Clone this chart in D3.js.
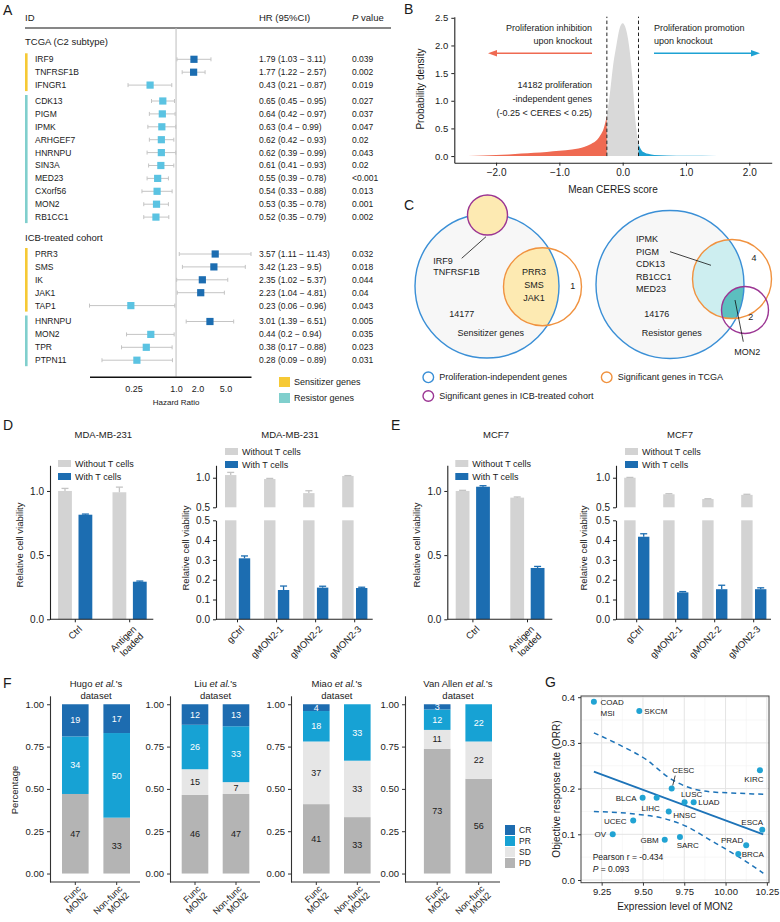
<!DOCTYPE html>
<html lang="en">
<head>
<meta charset="utf-8"/>
<title>MON2 figure</title>
<script src="https://d3js.org/d3.v7.min.js"></script>
<style>
body { margin: 0; background: #fff; }
svg { display: block; font-family: "Liberation Sans", Arial, Helvetica, sans-serif; }
</style>
</head>
<body>
<script>
// ----------------------------------------------------------------- data
// A: forest plot
const tcgaGenes = ["IRF9", "TNFRSF1B", "IFNGR1", "CDK13", "PIGM", "IPMK", "ARHGEF7", "HNRNPU", "SIN3A", "MED23", "CXorf56", "MON2", "RB1CC1"]
const tcgaKind  = ["S", "S", "S", "R", "R", "R", "R", "R", "R", "R", "R", "R", "R"]
const tcgaHR = [1.79, 1.77, 0.43, 0.65, 0.64, 0.63, 0.62, 0.62, 0.61, 0.55, 0.54, 0.53, 0.52]
const tcgaLo = [1.03, 1.22, 0.21, 0.45, 0.42, 0.4, 0.42, 0.39, 0.41, 0.39, 0.33, 0.35, 0.35]
const tcgaHi = [3.11, 2.57, 0.87, 0.95, 0.97, 0.99, 0.93, 0.99, 0.93, 0.78, 0.88, 0.78, 0.79]
const tcgaP  = ["0.039", "0.002", "0.019", "0.027", "0.037", "0.047", "0.02", "0.043", "0.02", "<0.001", "0.013", "0.001", "0.002"]
const icbGenes = ["PRR3", "SMS", "IK", "JAK1", "TAP1", "HNRNPU", "MON2", "TPR", "PTPN11"]
const icbKind  = ["S", "S", "S", "S", "S", "R", "R", "R", "R"]
const icbHR = [3.57, 3.42, 2.35, 2.23, 0.23, 3.01, 0.44, 0.38, 0.28]
const icbLo = [1.11, 1.23, 1.02, 1.04, 0.06, 1.39, 0.2, 0.17, 0.09]
const icbHi = [11.43, 9.5, 5.37, 4.81, 0.96, 6.51, 0.94, 0.88, 0.89]
const icbP  = ["0.032", "0.018", "0.044", "0.04", "0.043", "0.005", "0.035", "0.023", "0.031"]
const hrTicks = [0.25, 1, 2, 5]

// B: density of mean CERES score
const ceresX = [-2.44, -2.2, -2, -1.8, -1.6, -1.4, -1.2, -1, -0.8, -0.6, -0.5, -0.4, -0.35, -0.3, -0.25,
                -0.2, -0.15, -0.1, -0.05, 0, 0.05, 0.1, 0.15, 0.2, 0.25, 0.3, 0.35, 0.4, 0.5, 0.7, 1, 1.5, 2.1]
const ceresDens = [0, 0.01, 0.02, 0.03, 0.045, 0.06, 0.075, 0.095, 0.12, 0.17, 0.22, 0.3, 0.38, 0.5, 0.73,
                   1.15, 1.65, 2.0, 2.3, 2.4, 2.3, 2.0, 1.45, 0.65, 0.22, 0.1, 0.06, 0.04, 0.02, 0.01, 0.005, 0.002, 0]

// D / E: T cell co-culture viability
const agGroups = ["Ctrl", "Antigen\nloaded"]
const koGroups = ["gCtrl", "gMON2-1", "gMON2-2", "gMON2-3"]
const mdaAgNoT = [1.0, 0.99], mdaAgNoTErr = [0.02, 0.04]
const mdaAgT = [0.815, 0.293], mdaAgTErr = [0.005, 0.005]
const mdaKoNoT = [1.045, 0.978, 0.74, 1.03], mdaKoNoTErr = [0.045, 0.01, 0.04, 0.006]
const mdaKoT = [0.308, 0.148, 0.16, 0.158], mdaKoTErr = [0.012, 0.02, 0.007, 0.004]
const mcfAgNoT = [1.0, 0.948], mcfAgNoTErr = [0.005, 0.005]
const mcfAgT = [1.033, 0.4], mcfAgTErr = [0.008, 0.012]
const mcfKoNoT = [1.0, 0.72, 0.64, 0.71], mcfKoNoTErr = [0.005, 0.01, 0.005, 0.01]
const mcfKoT = [0.417, 0.136, 0.152, 0.152], mcfKoTErr = [0.015, 0.004, 0.02, 0.007]

// F: response of ICB cohorts (counts in %), [Func, Non-func]
const fDatasets = ["Hugo", "Liu", "Miao", "Van Allen"]
const fGroups = ["Func\nMON2", "Non-func\nMON2"]
const fResp = ["PD", "SD", "PR", "CR"]
const fPD = [[47, 33], [46, 47], [41, 33], [73, 56]]
const fSD = [[0, 0], [15, 7], [37, 33], [11, 22]]
const fPR = [[34, 50], [26, 33], [18, 33], [12, 22]]
const fCR = [[19, 17], [12, 13], [4, 0], [3, 0]]

// G: ORR vs MON2 expression
const gCancers = ["COAD\nMSI", "SKCM", "CESC", "KIRC", "BLCA", "LIHC", "LUSC", "LUAD", "HNSC", "UCEC", "OV", "GBM", "SARC", "ESCA", "PRAD", "BRCA"]
const gExpr = [9.203, 9.478, 9.674, 10.208, 9.498, 9.583, 9.752, 9.807, 9.656, 9.441, 9.317, 9.632, 9.724, 10.222, 10.125, 10.077]
const gOrr  = [0.39, 0.37, 0.2, 0.24, 0.18, 0.18, 0.17, 0.17, 0.15, 0.13, 0.1, 0.088, 0.094, 0.11, 0.076, 0.057]
const gFit = [[9.203, 0.237], [10.228, 0.1]]
const gUpper = [[9.203, 0.322], [9.361, 0.295], [9.522, 0.263], [9.663, 0.2225], [9.765, 0.204], [9.906, 0.193], [10.067, 0.19], [10.228, 0.1875]]
const gLower = [[9.203, 0.15], [9.462, 0.144], [9.623, 0.135], [9.765, 0.117], [9.906, 0.0875], [10.027, 0.062], [10.148, 0.035], [10.228, 0.0147]]

// ----------------------------------------------------------------- colours
const C = {
  dark: "#1c6db1", light: "#5bc3e2", ci: "#c4c4c4", yellow: "#f6c935", teal: "#80cfcd",
  red: "#ef6a52", cyan: "#1ea2d3", grey: "#d9d9d9", barGrey: "#d3d3d3", ink: "#1a1a1a",
  CR: "#1d6cb0", PR: "#17a2d4", SD: "#e6e6e6", PD: "#b4b4b4"
}

const svg = d3.select("body").append("svg").attr("width", 780).attr("height", 922)
svg.append("rect").attr("width", 780).attr("height", 922).attr("fill", "#fff")

function text(g, x, y, s, o = {}) {
  const t = g.append("text").attr("x", x).attr("y", y)
    .attr("font-size", o.size || 8.5)
    .attr("text-anchor", o.anchor || "start")
    .attr("fill", o.fill || C.ink)
  if (o.dy) t.attr("dy", o.dy)
  if (o.style) t.attr("font-style", o.style)
  if (o.weight) t.attr("font-weight", o.weight)
  t.text(s)
  return t
}
function rotLabel(g, x, y, s, size, angle = -45) {
  const t = g.append("text").attr("transform", `translate(${x},${y}) rotate(${angle})`)
    .attr("text-anchor", "end").attr("font-size", size).attr("fill", C.ink)
  s.split("\n").forEach((l, i) => t.append("tspan").attr("x", 0).attr("dy", i ? "1.05em" : "0.35em").text(l))
}
function yLabel(g, x, y, s, size) {
  g.append("text").attr("transform", `translate(${x},${y}) rotate(-90)`)
    .attr("text-anchor", "middle").attr("dy", "0.35em").attr("font-size", size).attr("fill", C.ink).text(s)
}
function styleAxis(g, size, col = "#222", w = 1.1) {
  g.attr("font-family", null).attr("font-size", size)
  g.selectAll("line").attr("stroke", col)
  g.select(".domain").attr("stroke", col).attr("stroke-width", w)
  g.selectAll("text").attr("fill", C.ink)
}
const panelLetters = [["A", 3, 15], ["B", 404, 14], ["C", 404, 209.5], ["D", 3, 430], ["E", 391, 430], ["F", 3, 688], ["G", 545, 687]]
panelLetters.forEach(([l, x, y]) => text(svg, x, y, l, { size: 14 }))

// ----------------------------------------------------------------- A
const A = svg.append("g")
const hrX = d3.scaleLog().domain([0.06, 11.43]).range([89.5, 251])
text(A, 25, 21, "ID", { size: 9.5 })
text(A, 259, 21, "HR (95%CI)", { size: 9.5 })
const pv = text(A, 352, 21, "", { size: 9.5 })
pv.append("tspan").attr("font-style", "italic").text("P")
pv.append("tspan").text(" value")
A.append("line").attr("x1", 25).attr("x2", 391).attr("y1", 28).attr("y2", 28).attr("stroke", "#111").attr("stroke-width", 1.2)
A.append("line").attr("x1", hrX(1)).attr("x2", hrX(1)).attr("y1", 28).attr("y2", 376.7).attr("stroke", "#bdbdbd").attr("stroke-width", 1)
text(A, 25, 42, "TCGA (C2 subtype)", { size: 9.5, dy: "0.35em" })
text(A, 25, 237.3, "ICB-treated cohort", { size: 9.5, dy: "0.35em" })

function forest(genes, kind, hr, lo, hi, p, y0) {
  let gap = 0
  const ys = genes.map((_, i) => {
    if (i > 0 && kind[i] !== kind[i - 1]) gap += 3
    return y0 + i * 12.9 + gap
  })
  // group colour bars
  let start = 0
  kind.forEach((k, i) => {
    if (i === kind.length - 1 || kind[i + 1] !== k) {
      A.append("rect").attr("x", 25).attr("width", 2.6)
        .attr("y", ys[start] - 6).attr("height", ys[i] - ys[start] + 12)
        .attr("fill", k === "S" ? C.yellow : C.teal)
      start = i + 1
    }
  })
  genes.forEach((g, i) => {
    const y = ys[i]
    text(A, 35, y, g, { dy: "0.35em" })
    A.append("line").attr("x1", hrX(lo[i])).attr("x2", hrX(hi[i])).attr("y1", y).attr("y2", y).attr("stroke", C.ci)
    ;[lo[i], hi[i]].forEach(v => A.append("line").attr("x1", hrX(v)).attr("x2", hrX(v))
      .attr("y1", y - 2).attr("y2", y + 2).attr("stroke", C.ci))
    A.append("rect").attr("x", hrX(hr[i]) - 3.6).attr("y", y - 3.6).attr("width", 7.2).attr("height", 7.2)
      .attr("fill", hr[i] > 1 ? C.dark : C.light)
    text(A, 259, y, `${hr[i]} (${lo[i]} \u2212 ${hi[i]})`, { dy: "0.35em" })
    text(A, 352, y, p[i], { dy: "0.35em" })
  })
}
forest(tcgaGenes, tcgaKind, tcgaHR, tcgaLo, tcgaHi, tcgaP, 59.3)
forest(icbGenes, icbKind, icbHR, icbLo, icbHi, icbP, 254)

const aAx = A.append("g").attr("transform", "translate(0,376.7)")
  .call(d3.axisBottom(hrX).tickValues(hrTicks).tickSize(0).tickPadding(9)
    .tickFormat(d => d < 1 ? d3.format(".2f")(d) : d3.format(".1f")(d)))
styleAxis(aAx, 9, "#111", 1.4)
text(A, hrX(1), 402, "Hazard Ratio", { size: 8, anchor: "middle", dy: "0.35em" })
A.append("rect").attr("x", 279).attr("y", 377).attr("width", 11).attr("height", 10).attr("fill", C.yellow)
A.append("rect").attr("x", 279).attr("y", 393).attr("width", 11).attr("height", 10).attr("fill", C.teal)
text(A, 294, 382, "Sensitizer genes", { size: 9, dy: "0.35em" })
text(A, 294, 398, "Resistor genes", { size: 9, dy: "0.35em" })

// ----------------------------------------------------------------- B
const B = svg.append("g")
const bx = d3.scaleLinear().domain([-2.66, 2.354]).range([454.3, 771.7])
const by = d3.scaleLinear().domain([-0.12, 2.52]).range([162.7, 16.7])
const dens = ceresX.map((x, i) => ({ x, d: ceresDens[i] }))
const area = d3.area().x(p => bx(p.x)).y0(by(0)).y1(p => by(p.d)).curve(d3.curveMonotoneX)
B.append("path").datum(dens.filter(p => p.x <= -0.25)).attr("d", area).attr("fill", C.red)
B.append("path").datum(dens.filter(p => p.x >= -0.25 && p.x <= 0.25)).attr("d", area).attr("fill", C.grey)
B.append("path").datum(dens.filter(p => p.x >= 0.25)).attr("d", area).attr("fill", C.cyan)
;[-0.25, 0.25].forEach(v => B.append("line").attr("x1", bx(v)).attr("x2", bx(v)).attr("y1", by(0)).attr("y2", 16.7)
  .attr("stroke", "#222").attr("stroke-dasharray", "3.5,2.5"))
const bxAx = B.append("g").attr("transform", "translate(0,162.7)")
  .call(d3.axisBottom(bx).tickValues([-2, -1, 0, 1, 2]).tickSize(3).tickSizeOuter(0))
styleAxis(bxAx, 10)
const byAx = B.append("g").attr("transform", "translate(454.3,0)")
  .call(d3.axisLeft(by).tickValues([0, 0.5, 1, 1.5, 2, 2.5]).tickFormat(d3.format(".1f")).tickSize(3).tickSizeOuter(0))
styleAxis(byAx, 9.5)
text(B, 613, 189, "Mean CERES score", { size: 10, anchor: "middle", dy: "0.35em" })
yLabel(B, 420.7, 89, "Probability density", 10)
text(B, 592, 28.3, "Proliferation inhibition", { size: 9, anchor: "end", dy: "0.35em" })
text(B, 592, 40.7, "upon knockout", { size: 9, anchor: "end", dy: "0.35em" })
text(B, 654, 28.3, "Proliferation promotion", { size: 9, dy: "0.35em" })
text(B, 654, 40.7, "upon knockout", { size: 9, dy: "0.35em" })
function arrow(x1, x2, y, col) {
  const dir = Math.sign(x2 - x1)
  B.append("line").attr("x1", x1).attr("x2", x2 - dir * 6).attr("y1", y).attr("y2", y).attr("stroke", col).attr("stroke-width", 1.5)
  B.append("path").attr("d", `M${x2},${y} L${x2 - dir * 9},${y - 3.2} L${x2 - dir * 9},${y + 3.2} Z`).attr("fill", col)
}
arrow(592, 488, 53.3, C.red)
arrow(654, 760, 53.3, C.cyan)
text(B, 592, 85, "14182 proliferation", { size: 9, anchor: "end", dy: "0.35em" })
text(B, 592, 99.3, "-independent genes", { size: 9, anchor: "end", dy: "0.35em" })
text(B, 592, 113.3, "(-0.25 < CERES < 0.25)", { size: 9, anchor: "end", dy: "0.35em" })

// ----------------------------------------------------------------- C
const Cg = svg.append("g")
const defs = svg.append("defs")
function clip(id, cx, cy, r) {
  defs.append("clipPath").attr("id", id).append("circle").attr("cx", cx).attr("cy", cy).attr("r", r)
  return `url(#${id})`
}
const blueS = "#3a8fd6", orangeS = "#f0923f", purpleS = "#9b3593", pale = "#fdeab2"
// left venn (sensitizers)
Cg.append("circle").attr("cx", 487).attr("cy", 286).attr("r", 72).attr("fill", "#f7f7f7")
Cg.append("circle").attr("cx", 542.5).attr("cy", 286.7).attr("r", 39).attr("fill", "#fff")
Cg.append("g").attr("clip-path", clip("cL", 487, 286, 72))
  .append("circle").attr("cx", 542.5).attr("cy", 286.7).attr("r", 39).attr("fill", pale)
Cg.append("circle").attr("cx", 487).attr("cy", 286).attr("r", 72).attr("fill", "none").attr("stroke", blueS).attr("stroke-width", 1.4)
Cg.append("circle").attr("cx", 542.5).attr("cy", 286.7).attr("r", 39).attr("fill", "none").attr("stroke", orangeS).attr("stroke-width", 1.4)
Cg.append("circle").attr("cx", 487.5).attr("cy", 215).attr("r", 20).attr("fill", pale).attr("stroke", purpleS).attr("stroke-width", 1.4)
Cg.append("line").attr("x1", 461.7).attr("y1", 258.3).attr("x2", 486).attr("y2", 236.7).attr("stroke", "#111").attr("stroke-width", 0.8)
text(Cg, 433.3, 260.7, "IRF9", { size: 9, dy: "0.35em" })
text(Cg, 433.3, 272.3, "TNFRSF1B", { size: 9, dy: "0.35em" })
;["PRR3", "SMS", "JAK1"].forEach((s, i) => text(Cg, 534, 271.7 + i * 13.3, s, { size: 9, anchor: "middle", dy: "0.35em" }))
text(Cg, 572.7, 285.7, "1", { size: 9, anchor: "middle", dy: "0.35em" })
text(Cg, 461.7, 314, "14177", { size: 9, anchor: "middle", dy: "0.35em" })
text(Cg, 490.7, 333.3, "Sensitizer genes", { size: 9, anchor: "middle", dy: "0.35em" })
// right venn (resistors)
Cg.append("circle").attr("cx", 670).attr("cy", 284.5).attr("r", 74).attr("fill", "#f7f7f7")
Cg.append("circle").attr("cx", 732).attr("cy", 279).attr("r", 39.5).attr("fill", "#fff")
Cg.append("circle").attr("cx", 745).attr("cy", 310).attr("r", 23.5).attr("fill", "#fff")
const cR = clip("cR", 670, 284.5, 74)
Cg.append("g").attr("clip-path", cR).append("circle").attr("cx", 732).attr("cy", 279).attr("r", 39.5).attr("fill", "#cdeef0")
Cg.append("g").attr("clip-path", cR).append("g").attr("clip-path", clip("cO", 732, 279, 39.5))
  .append("circle").attr("cx", 745).attr("cy", 310).attr("r", 23.5).attr("fill", "#5cbfbf")
Cg.append("circle").attr("cx", 670).attr("cy", 284.5).attr("r", 74).attr("fill", "none").attr("stroke", blueS).attr("stroke-width", 1.4)
Cg.append("circle").attr("cx", 732).attr("cy", 279).attr("r", 39.5).attr("fill", "none").attr("stroke", orangeS).attr("stroke-width", 1.4)
Cg.append("circle").attr("cx", 745).attr("cy", 310).attr("r", 23.5).attr("fill", "none").attr("stroke", purpleS).attr("stroke-width", 1.4)
;["IPMK", "PIGM", "CDK13", "RB1CC1", "MED23"].forEach((s, i) => text(Cg, 636, 239.3 + i * 12.5, s, { size: 9, dy: "0.35em" }))
Cg.append("line").attr("x1", 670).attr("y1", 251.7).attr("x2", 711).attr("y2", 265.3).attr("stroke", "#111").attr("stroke-width", 0.8)
Cg.append("line").attr("x1", 735).attr("y1", 300).attr("x2", 743.3).attr("y2", 341.7).attr("stroke", "#111").attr("stroke-width", 0.8)
text(Cg, 754, 258.3, "4", { size: 9, anchor: "middle", dy: "0.35em" })
text(Cg, 750.7, 316.7, "2", { size: 9, anchor: "middle", dy: "0.35em" })
text(Cg, 747.3, 352, "MON2", { size: 9, anchor: "middle", dy: "0.35em" })
text(Cg, 656.7, 314, "14176", { size: 9, anchor: "middle", dy: "0.35em" })
text(Cg, 671.7, 333.3, "Resistor genes", { size: 9, anchor: "middle", dy: "0.35em" })
// legend
;[[428.3, 377.3, blueS, "Proliferation-independent genes"], [606.7, 377.3, orangeS, "Significant genes in TCGA"],
  [428.3, 396, purpleS, "Significant genes in ICB-treated cohort"]].forEach(([x, y, col, s]) => {
  Cg.append("circle").attr("cx", x).attr("cy", y).attr("r", 5.3).attr("fill", "#fff").attr("stroke", col).attr("stroke-width", 1.4)
  text(Cg, x + 11, y, s, { size: 9, dy: "0.35em" })
})

// ----------------------------------------------------------------- D / E
function barLegend(g, x, y) {
  g.append("rect").attr("x", x).attr("y", y).attr("width", 13).attr("height", 7).attr("fill", C.barGrey)
  g.append("rect").attr("x", x).attr("y", y + 13).attr("width", 13).attr("height", 7).attr("fill", C.dark)
  text(g, x + 17, y + 3.5, "Without T cells", { size: 9, dy: "0.35em" })
  text(g, x + 17, y + 16.5, "With T cells", { size: 9, dy: "0.35em" })
}
function errBar(g, cx, y0, y1, col) {
  g.append("line").attr("x1", cx).attr("x2", cx).attr("y1", y0).attr("y2", y1).attr("stroke", col).attr("stroke-width", 1.3)
  g.append("line").attr("x1", cx - 3.5).attr("x2", cx + 3.5).attr("y1", y1).attr("y2", y1).attr("stroke", col).attr("stroke-width", 1.3)
}
const axisY = 619.3
function simpleBars(cfg) {
  const g = svg.append("g")
  const y = d3.scaleLinear().domain([0, 1.2]).range([axisY, 465.3])
  const x = d3.scalePoint().domain(cfg.groups).range(cfg.centers)
  cfg.groups.forEach((grp, i) => {
    const c = x(grp)
    ;[[cfg.noT, cfg.noTErr, C.barGrey, "#c4c4c4", c - 17.2], [cfg.withT, cfg.withTErr, C.dark, C.dark, c + 3.2]].forEach(([v, e, fill, ec, bx0]) => {
      g.append("rect").attr("x", bx0).attr("width", 13.8).attr("y", y(v[i])).attr("height", axisY - y(v[i])).attr("fill", fill)
      errBar(g, bx0 + 6.9, y(v[i]), y(v[i] + e[i]), ec)
    })
    rotLabel(g, c + 5, axisY + 8, grp, 9.5)
  })
  const ya = g.append("g").attr("transform", `translate(${cfg.axisX},0)`)
    .call(d3.axisLeft(y).tickValues([0, 0.5, 1]).tickFormat(d3.format(".1f")).tickSize(3).tickSizeOuter(0))
  styleAxis(ya, 10)
  g.append("line").attr("x1", cfg.axisX).attr("x2", cfg.endX).attr("y1", axisY).attr("y2", axisY).attr("stroke", "#222").attr("stroke-width", 1.1)
  cfg.groups.forEach(grp => g.append("line").attr("x1", x(grp)).attr("x2", x(grp)).attr("y1", axisY).attr("y2", axisY + 3).attr("stroke", "#222"))
  text(g, cfg.titleX, 435, cfg.title, { size: 9.5, anchor: "middle", dy: "0.35em" })
  yLabel(g, cfg.labelX, 545, "Relative cell viability", 9.5)
  barLegend(g, cfg.axisX + 8, 460)
}
function brokenBars(cfg) {
  const g = svg.append("g")
  const yu = d3.scaleLinear().domain([0.5, 1.21]).range([507.3, 465.3])
  const yl = d3.scaleLinear().domain([0, 0.5]).range([axisY, 520.3])
  const x = d3.scalePoint().domain(cfg.groups).range(cfg.centers)
  cfg.groups.forEach((grp, i) => {
    const c = x(grp)
    ;[[cfg.noT, cfg.noTErr, C.barGrey, "#c4c4c4", c - 12.5], [cfg.withT, cfg.withTErr, C.dark, C.dark, c + 1.3]].forEach(([v, e, fill, ec, bx0]) => {
      const val = v[i], cx = bx0 + 5.7
      if (val > 0.5) {
        g.append("rect").attr("x", bx0).attr("width", 11.4).attr("y", yl(0.5)).attr("height", axisY - yl(0.5)).attr("fill", fill)
        g.append("rect").attr("x", bx0).attr("width", 11.4).attr("y", yu(val)).attr("height", yu(0.5) - yu(val)).attr("fill", fill)
        errBar(g, cx, yu(val), yu(val + e[i]), ec)
      } else {
        g.append("rect").attr("x", bx0).attr("width", 11.4).attr("y", yl(val)).attr("height", axisY - yl(val)).attr("fill", fill)
        errBar(g, cx, yl(val), yl(val + e[i]), ec)
      }
    })
    rotLabel(g, c + 5, axisY + 8, grp, 9.5)
  })
  const ua = g.append("g").attr("transform", `translate(${cfg.axisX},0)`)
    .call(d3.axisLeft(yu).tickValues([0.5, 1]).tickFormat(d3.format(".1f")).tickSize(3).tickSizeOuter(0))
  styleAxis(ua, 10)
  const la = g.append("g").attr("transform", `translate(${cfg.axisX},0)`)
    .call(d3.axisLeft(yl).tickValues([0, 0.1, 0.2, 0.3, 0.4, 0.5]).tickFormat(d3.format(".1f")).tickSize(3).tickSizeOuter(0))
  styleAxis(la, 10)
  g.append("line").attr("x1", cfg.axisX).attr("x2", cfg.endX).attr("y1", axisY).attr("y2", axisY).attr("stroke", "#222").attr("stroke-width", 1.1)
  cfg.groups.forEach(grp => g.append("line").attr("x1", x(grp)).attr("x2", x(grp)).attr("y1", axisY).attr("y2", axisY + 3).attr("stroke", "#222"))
  text(g, cfg.titleX, 435, cfg.title, { size: 9.5, anchor: "middle", dy: "0.35em" })
  yLabel(g, cfg.labelX, 548, "Relative cell viability", 9.5)
  barLegend(g, cfg.axisX + 9, 448)
}
simpleBars({ axisX: 50, endX: 153.3, centers: [75.3, 129.7], groups: agGroups, title: "MDA-MB-231", titleX: 103.3, labelX: 20,
  noT: mdaAgNoT, noTErr: mdaAgNoTErr, withT: mdaAgT, withTErr: mdaAgTErr })
brokenBars({ axisX: 216, endX: 372.7, centers: [237.5, 354.7], groups: koGroups, title: "MDA-MB-231", titleX: 290, labelX: 185.5,
  noT: mdaKoNoT, noTErr: mdaKoNoTErr, withT: mdaKoT, withTErr: mdaKoTErr })
simpleBars({ axisX: 447.3, endX: 552.3, centers: [472.9, 527.5], groups: agGroups, title: "MCF7", titleX: 496, labelX: 416.7,
  noT: mcfAgNoT, noTErr: mcfAgNoTErr, withT: mcfAgT, withTErr: mcfAgTErr })
brokenBars({ axisX: 616, endX: 771, centers: [636.7, 753.7], groups: koGroups, title: "MCF7", titleX: 680, labelX: 583.5,
  noT: mcfKoNoT, noTErr: mcfKoNoTErr, withT: mcfKoT, withTErr: mcfKoTErr })

// ----------------------------------------------------------------- F
const fAxisX = [50, 170, 291, 405]
const fEndX = [140, 260, 380, 500]
const fCenters = [[75.3, 116.7], [195, 236], [316.3, 357.3], [437.2, 478.7]]
const fy = d3.scaleLinear().domain([-0.05, 1.05]).range([882, 695.8])
const fSrc = { PD: fPD, SD: fSD, PR: fPR, CR: fCR }
fDatasets.forEach((ds, k) => {
  const g = svg.append("g")
  const x = d3.scalePoint().domain(fGroups).range(fCenters[k])
  const rows = fGroups.map((grp, j) => {
    const r = { grp }
    fResp.forEach(key => r[key] = fSrc[key][k][j])
    return r
  })
  const stacked = d3.stack().keys(fResp).offset(d3.stackOffsetExpand)(rows)
  stacked.forEach(layer => {
    layer.forEach((seg, j) => {
      const val = rows[j][layer.key]
      if (!val) return
      const c = x(rows[j].grp)
      g.append("rect").attr("x", c - 13.3).attr("width", 26.6)
        .attr("y", fy(seg[1])).attr("height", fy(seg[0]) - fy(seg[1])).attr("fill", C[layer.key])
      text(g, c, (fy(seg[0]) + fy(seg[1])) / 2, val, { size: 9, anchor: "middle", dy: "0.35em",
        fill: layer.key === "CR" || layer.key === "PR" ? "#fff" : C.ink })
    })
  })
  const ya = g.append("g").attr("transform", `translate(${fAxisX[k]},0)`)
    .call(d3.axisLeft(fy).tickValues([0, 0.25, 0.5, 0.75, 1]).tickFormat(d3.format(".2f")).tickSize(3).tickSizeOuter(0))
  styleAxis(ya, 9.5, "#333")
  g.append("line").attr("x1", fAxisX[k]).attr("x2", fEndX[k]).attr("y1", 882).attr("y2", 882).attr("stroke", "#333").attr("stroke-width", 1.1)
  fGroups.forEach(grp => {
    g.append("line").attr("x1", x(grp)).attr("x2", x(grp)).attr("y1", 882).attr("y2", 885).attr("stroke", "#333")
    rotLabel(g, x(grp) + 4, 887, grp, 9)
  })
  const tc = (fCenters[k][0] + fCenters[k][1]) / 2
  const t = text(g, tc, 684, "", { size: 9.5, anchor: "middle", dy: "0.35em" })
  t.append("tspan").text(ds + " ")
  t.append("tspan").attr("font-style", "italic").text("et al.")
  t.append("tspan").text("'s")
  text(g, tc, 696, "dataset", { size: 9.5, anchor: "middle", dy: "0.35em" })
})
yLabel(svg, 15, 790, "Percentage", 9.5)
;["CR", "PR", "SD", "PD"].forEach((key, i) => {
  svg.append("rect").attr("x", 505).attr("y", 825 + i * 11).attr("width", 10).attr("height", 10).attr("fill", C[key])
  text(svg, 519, 830 + i * 11, key, { size: 8.5, dy: "0.35em" })
})

// ----------------------------------------------------------------- G
const G = svg.append("g")
const gx = d3.scaleLinear().domain([9.125, 10.263]).range([581, 769])
const gy = d3.scaleLinear().domain([-0.0059, 0.4026]).range([882.7, 696])
const gxTicks = [9.25, 9.5, 9.75, 10, 10.25], gyTicks = [0, 0.1, 0.2, 0.3, 0.4]
const gxMinor = [9.125, 9.375, 9.625, 9.875, 10.125], gyMinor = [0.05, 0.15, 0.25, 0.35]
gxMinor.forEach(v => G.append("line").attr("x1", gx(v)).attr("x2", gx(v)).attr("y1", 696).attr("y2", 882.7).attr("stroke", "#f2f2f2").attr("stroke-width", 0.6))
gyMinor.forEach(v => G.append("line").attr("y1", gy(v)).attr("y2", gy(v)).attr("x1", 581).attr("x2", 769).attr("stroke", "#f2f2f2").attr("stroke-width", 0.6))
gxTicks.forEach(v => G.append("line").attr("x1", gx(v)).attr("x2", gx(v)).attr("y1", 696).attr("y2", 882.7).attr("stroke", "#e4e4e4").attr("stroke-width", 1))
gyTicks.forEach(v => G.append("line").attr("y1", gy(v)).attr("y2", gy(v)).attr("x1", 581).attr("x2", 769).attr("stroke", "#e4e4e4").attr("stroke-width", 1))
const gLine = d3.line().x(d => gx(d[0])).y(d => gy(d[1])).curve(d3.curveMonotoneX)
G.append("path").datum(gFit).attr("d", gLine).attr("fill", "none").attr("stroke", "#1d73b8").attr("stroke-width", 1.8)
;[gUpper, gLower].forEach(b => G.append("path").datum(b).attr("d", gLine).attr("fill", "none")
  .attr("stroke", "#1d73b8").attr("stroke-width", 1.5).attr("stroke-dasharray", "5,4"))
// label placement (pixels relative to the point)
const gLab = {
  "COAD\nMSI": [6.7, 0.7, "start"], SKCM: [5, 0, "start"], CESC: [11.6, -18.3, "middle"], KIRC: [-6, 9, "middle"],
  BLCA: [-6, 0, "end"], LIHC: [-6, 10, "middle"], LUSC: [7, -8, "middle"], LUAD: [4.6, 0, "start"],
  HNSC: [4.6, 3.3, "start"], UCEC: [-6.6, 0.3, "end"], OV: [-6.7, 0, "end"], GBM: [-6, 0, "end"],
  SARC: [-3.3, 8, "start"], ESCA: [-10, -7.6, "middle"], PRAD: [-3, -5.3, "end"], BRCA: [3.4, 0.6, "start"]
}
gCancers.forEach((c, i) => {
  const px = gx(gExpr[i]), py = gy(gOrr[i])
  const [dx, dy, anc] = gLab[c]
  const t = G.append("text").attr("font-size", 8).attr("fill", C.ink).attr("text-anchor", anc)
  c.split("\n").forEach((l, j) => t.append("tspan").attr("x", px + dx).attr("y", py + dy + j * 11).attr("dy", "0.35em").text(l))
  if (c === "CESC") G.append("line").attr("x1", px + 1).attr("y1", py - 3).attr("x2", px + 3.5).attr("y2", py - 13).attr("stroke", "#111").attr("stroke-width", 0.8)
})
G.selectAll("circle.pt").data(gCancers).join("circle").attr("class", "pt")
  .attr("cx", (d, i) => gx(gExpr[i])).attr("cy", (d, i) => gy(gOrr[i])).attr("r", 3).attr("fill", "#21a3d3")
G.append("rect").attr("x", 581).attr("y", 696).attr("width", 188).attr("height", 186.7).attr("fill", "none").attr("stroke", "#444").attr("stroke-width", 1)
const gxa = G.append("g").attr("transform", "translate(0,882.7)")
  .call(d3.axisBottom(gx).tickValues(gxTicks).tickFormat(d3.format(".2f")).tickSize(3).tickSizeOuter(0))
styleAxis(gxa, 9.5, "#333"); gxa.select(".domain").remove()
const gya = G.append("g").attr("transform", "translate(581,0)")
  .call(d3.axisLeft(gy).tickValues(gyTicks).tickFormat(d3.format(".1f")).tickSize(3).tickSizeOuter(0))
styleAxis(gya, 9.5, "#333"); gya.select(".domain").remove()
text(G, 675, 906, "Expression level of MON2", { size: 10, anchor: "middle", dy: "0.35em" })
yLabel(G, 556, 789, "Objective response rate (ORR)", 10)
text(G, 592.7, 856.7, "Pearson r = -0.434", { size: 8.5, dy: "0.35em" })
const pt = text(G, 592.7, 869.3, "", { size: 8.5, dy: "0.35em" })
pt.append("tspan").attr("font-style", "italic").text("P")
pt.append("tspan").text(" = 0.093")
</script>
</body>
</html>
